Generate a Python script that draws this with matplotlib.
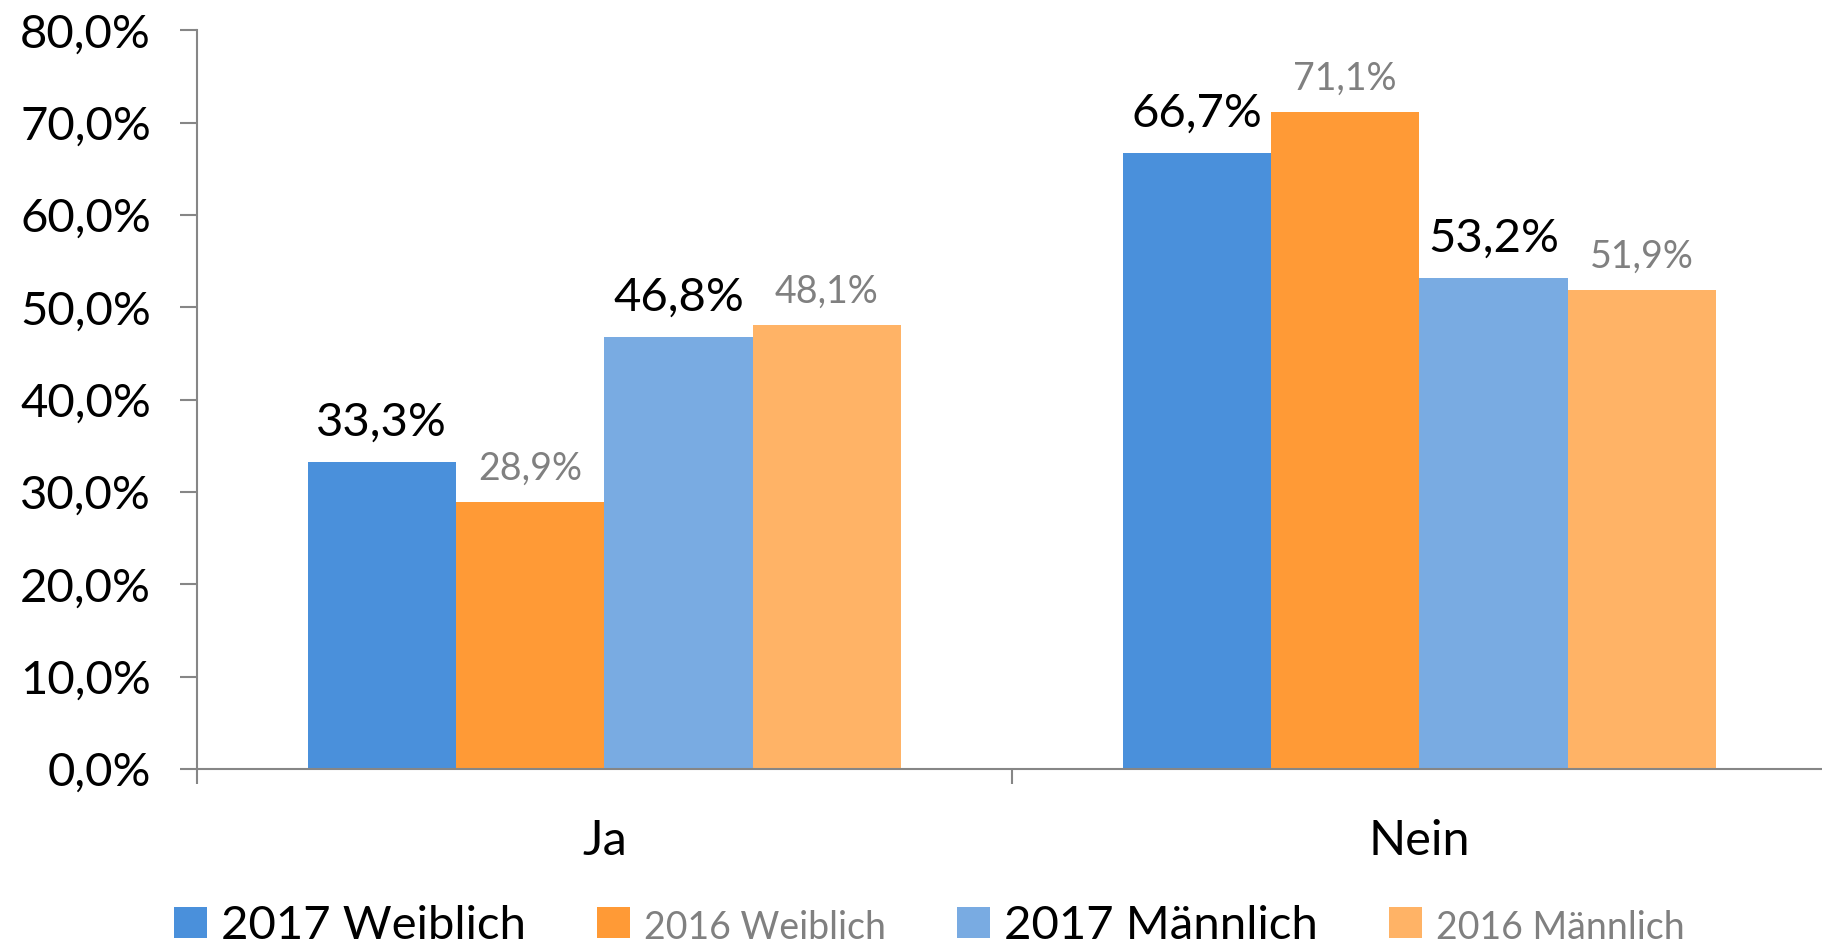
import numpy as np
import matplotlib
matplotlib.use("Agg")
import matplotlib.pyplot as plt
from matplotlib.ticker import FuncFormatter

plt.rcParams['font.family'] = ['Lato', 'DejaVu Sans']

# Daten
kategorien = ['Ja', 'Nein']
serien = ['2017 Weiblich', '2016 Weiblich', '2017 Männlich', '2016 Männlich']
w_2017 = [33.3, 66.7]
w_2016 = [28.9, 71.1]
m_2017 = [46.8, 53.2]
m_2016 = [48.1, 51.9]
werte = [w_2017, w_2016, m_2017, m_2016]

farben = ['#4A90DB', '#FF9A36', '#79ABE2', '#FFB366']
text_farben = ['black', '#808080', 'black', '#808080']
label_groesse = [34, 27, 34, 27]
legend_groesse = [34, 27, 34, 27]

GRAU = '#868686'

fig = plt.figure(figsize=(18.22, 9.46), dpi=100)
ax = fig.add_axes([0.108, 0.187, 0.8946, 0.781])

x = np.arange(len(kategorien))
breite = 0.182
offsets = (np.arange(4) - 1.5) * breite

for i in range(4):
    bars = ax.bar(x + offsets[i], werte[i], breite, color=farben[i], label=serien[i])
    for b, v in zip(bars, werte[i]):
        ax.annotate(f'{v:.1f}%'.replace('.', ','),
                    (b.get_x() + b.get_width() / 2, b.get_height()),
                    xytext=(0, 13 if i % 2 == 0 else 11), textcoords='offset points',
                    ha='center', va='bottom', fontsize=label_groesse[i],
                    color=text_farben[i])

ax.set_ylim(0, 80)
ax.set_xlim(-0.5, 1.5)
ax.set_yticks(np.arange(0, 81, 10))
ax.yaxis.set_major_formatter(FuncFormatter(lambda v, p: f'{v:.1f}%'.replace('.', ',')))
ax.tick_params(axis='y', labelsize=34, length=12, width=1.5, color=GRAU, pad=21)

ax.set_xticks(x)
ax.set_xticklabels(kategorien)
ax.set_xticks([-0.5, 0.5, 1.5], minor=True)
ax.tick_params(axis='x', which='major', length=0, labelsize=35, pad=36)
ax.tick_params(axis='x', which='minor', length=11, width=1.5, color=GRAU)

for s in ['top', 'right']:
    ax.spines[s].set_visible(False)
for s in ['left', 'bottom']:
    ax.spines[s].set_color(GRAU)
    ax.spines[s].set_linewidth(1.5)

leg = ax.legend(loc='center left', bbox_to_anchor=(0.0955, 0.021),
                bbox_transform=fig.transFigure, ncol=4, frameon=False,
                handlelength=0.7, handleheight=0.65, handletextpad=0.3,
                columnspacing=1.5, fontsize=34, borderaxespad=0,
                borderpad=0)
for t, c, fs in zip(leg.get_texts(), text_farben, legend_groesse):
    t.set_color(c)
    t.set_fontsize(fs)

fig.savefig('out.png', dpi=100)
